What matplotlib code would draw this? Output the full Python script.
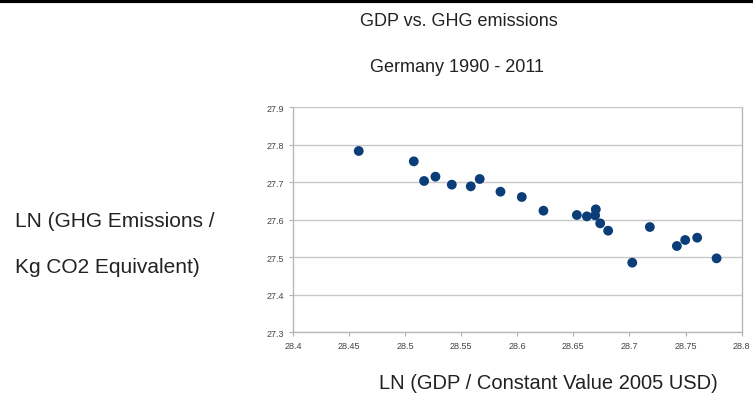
import matplotlib
matplotlib.use("Agg")
import matplotlib.pyplot as plt
from matplotlib.lines import Line2D

plt.rcParams['font.family'] = ['Liberation Sans', 'DejaVu Sans']

years = list(range(1990, 2012))
ln_gdp = [28.4586, 28.5077, 28.5169, 28.5270, 28.5416, 28.5585, 28.5665, 28.5850,
          28.6040, 28.6233, 28.6531, 28.6620, 28.6700, 28.6694, 28.6739, 28.6810,
          28.7025, 28.7182, 28.7423, 28.7497, 28.7604, 28.7777]
ln_ghg = [27.7827, 27.7551, 27.7027, 27.7142, 27.6929, 27.6884, 27.7080, 27.6742,
          27.6600, 27.6235, 27.6120, 27.6084, 27.6271, 27.6111, 27.5898, 27.5702,
          27.4849, 27.5800, 27.5293, 27.5453, 27.5515, 27.4964]
x_ticks = [28.4, 28.45, 28.5, 28.55, 28.6, 28.65, 28.7, 28.75, 28.8]
y_ticks = [27.3, 27.4, 27.5, 27.6, 27.7, 27.8, 27.9]

title = "GDP vs. GHG emissions"
subtitle = "Germany 1990 - 2011"
xlabel = "LN (GDP / Constant Value 2005 USD)"
ylabel_lines = ["LN (GHG Emissions /", "Kg CO2 Equivalent)"]

fig = plt.figure(figsize=(7.53, 4.06), dpi=100)
ax = fig.add_axes([293/753, 1-333/406, (741.6-293)/753, (333-108)/406])

ax.scatter(ln_gdp, ln_ghg, s=50, color='#0b3e78', edgecolors='none', zorder=3)

ax.set_xlim(28.4, 28.8)
ax.set_ylim(27.3, 27.9)
ax.set_xticks(x_ticks)
ax.set_yticks(y_ticks)
ax.set_xticklabels([f"{v:g}" for v in x_ticks])
ax.set_yticklabels([f"{v:g}" for v in y_ticks])
ax.tick_params(axis='both', labelsize=6.5, colors='#b0b0b0', labelcolor='#444444',
               length=3, width=0.8, direction='out')
ax.grid(axis='y', color='#c8c8c8', linewidth=1.0)
ax.set_axisbelow(True)
for s in ['left', 'right', 'bottom']:
    ax.spines[s].set_color('#b8b8b8')
    ax.spines[s].set_linewidth(1.0)
ax.spines['top'].set_color('#c8c8c8')

fig.text(459/753, 1-22/406, title, ha='center', va='center', fontsize=13, color='#222222')
fig.text(457/753, 1-68/406, subtitle, ha='center', va='center', fontsize=13, color='#222222')
fig.text(548/753, 1-384/406, xlabel, ha='center', va='center', fontsize=14.5, color='#222222')
fig.text(15/753, 1-222/406, ylabel_lines[0], ha='left', va='center', fontsize=15, color='#222222')
fig.text(15/753, 1-268/406, ylabel_lines[1], ha='left', va='center', fontsize=15, color='#222222')

fig.add_artist(Line2D([0, 1], [1-2/406, 1-2/406], transform=fig.transFigure, color='black', linewidth=3))

fig.savefig("out.png", dpi=100)
